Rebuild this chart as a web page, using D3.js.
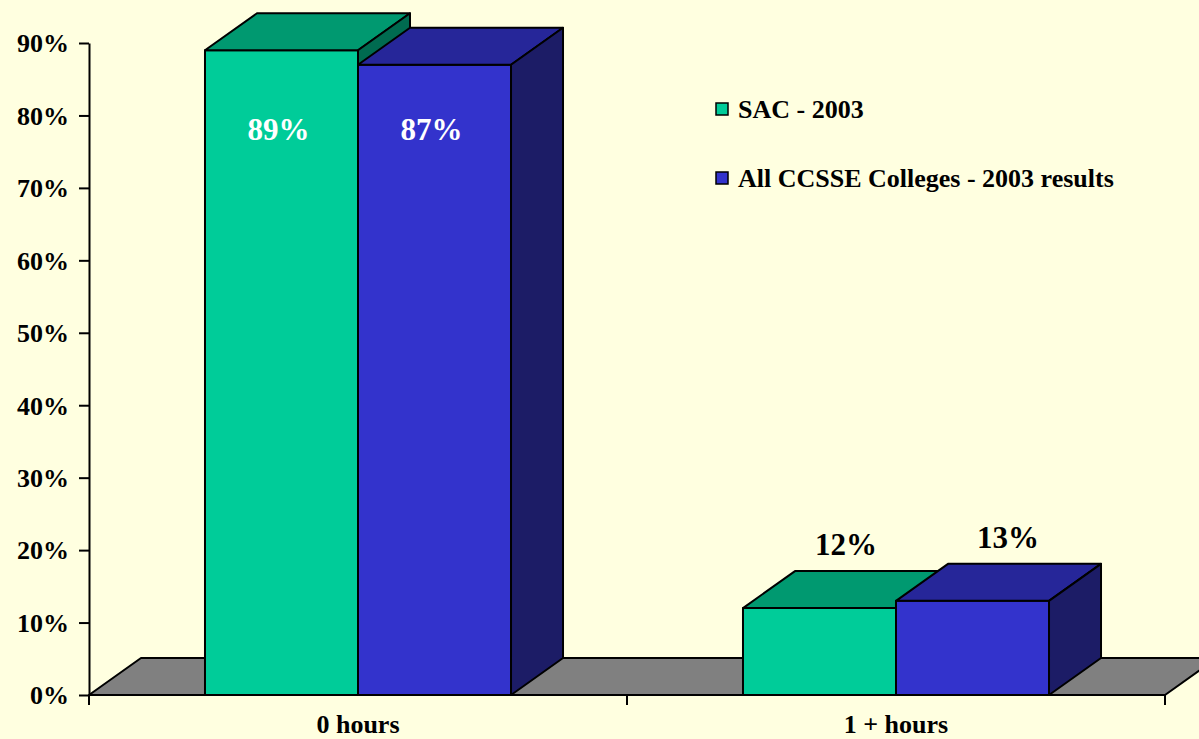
<!DOCTYPE html>
<html>
<head>
<meta charset="utf-8">
<script src="https://cdn.jsdelivr.net/npm/d3@7"></script>
<style>
  html, body { margin: 0; padding: 0; background: #ffffe0; }
  svg { display: block; font-family: "Liberation Serif", "Times New Roman", serif; font-weight: bold; }
</style>
</head>
<body>
<div id="chart"></div>
<script>
var categories = ['0 hours', '1 + hours'];
var seriesNames = ['SAC - 2003', 'All CCSSE Colleges - 2003 results'];
var sacValues = [0.89, 0.12];
var ccsseValues = [0.87, 0.13];
var yTicks = [0, 0.1, 0.2, 0.3, 0.4, 0.5, 0.6, 0.7, 0.8, 0.9];

// front, top, side colours per series
var colors = [
  {front: '#00cc99', top: '#009970', side: '#006b50'},
  {front: '#3333cc', top: '#262699', side: '#1c1c66'}
];

var svg = d3.select('#chart').append('svg')
  .attr('width', 1199)
  .attr('height', 739);

var margin = {t: 43, r: 34, b: 44, l: 89};
var depth = {dx: 52, dy: 37};

var x0 = d3.scaleBand().domain(categories).range([margin.l, 1199 - margin.r]);
var x1 = d3.scaleBand().domain(seriesNames).range([0, x0.bandwidth()]).paddingOuter(0.758);
var y = d3.scaleLinear().domain([0, 0.9]).range([739 - margin.b, margin.t]);

var pct = d3.format('.0%');

// floor
var fl = x0.range()[0], fr = x0.range()[1], fy = y(0);
svg.append('path')
  .attr('d', 'M' + [fl, fy] + 'L' + [fl + depth.dx, fy - depth.dy] + 'L' + [fr + depth.dx, fy - depth.dy] + 'L' + [fr, fy] + 'Z')
  .attr('fill', '#808080')
  .attr('stroke', '#000')
  .attr('stroke-width', 2)
  .attr('stroke-linejoin', 'round');

// bars
var rows = categories.map(function(c, i) {
  return {cat: c, vals: [sacValues[i], ccsseValues[i]]};
});

rows.forEach(function(row) {
  var g = svg.append('g');
  var gmax = d3.max(row.vals);
  row.vals.forEach(function(v, si) {
    var xl = x0(row.cat) + x1(seriesNames[si]);
    var xr = xl + x1.bandwidth();
    var yt = y(v), yb = y(0);
    var c = colors[si];
    var bar = g.append('g');
    bar.append('path')
      .attr('d', 'M' + [xl, yb] + 'L' + [xl, yt] + 'L' + [xr, yt] + 'L' + [xr, yb] + 'Z')
      .attr('fill', c.front);
    bar.append('path')
      .attr('d', 'M' + [xl, yt] + 'L' + [xl + depth.dx, yt - depth.dy] + 'L' + [xr + depth.dx, yt - depth.dy] + 'L' + [xr, yt] + 'Z')
      .attr('fill', c.top);
    bar.append('path')
      .attr('d', 'M' + [xr, yt] + 'L' + [xr + depth.dx, yt - depth.dy] + 'L' + [xr + depth.dx, yb - depth.dy] + 'L' + [xr, yb] + 'Z')
      .attr('fill', c.side);
    bar.selectAll('path')
      .attr('stroke', '#000')
      .attr('stroke-width', 2)
      .attr('stroke-linejoin', 'round');
  });
  // data labels
  row.vals.forEach(function(v, si) {
    var xc = x0(row.cat) + x1(seriesNames[si]) + x1.bandwidth() / 2;
    var inside = v > 0.5;
    g.append('text')
      .attr('x', inside ? xc - 3 : xc + depth.dx * 0.55 + si * 9 - 2)
      .attr('y', inside ? y(gmax) + 90 : y(v) - depth.dy - 16)
      .attr('text-anchor', 'middle')
      .attr('font-size', 31)
      .attr('fill', inside ? '#fff' : '#000')
      .text(pct(v));
  });
});

// y axis
var yAxis = svg.append('g')
  .attr('transform', 'translate(' + margin.l + ',0)')
  .call(d3.axisLeft(y).tickValues(yTicks).tickFormat(pct).tickSize(10).tickSizeOuter(0).tickPadding(10));
yAxis.selectAll('path, line').attr('stroke', '#000').attr('stroke-width', 2);
yAxis.selectAll('text')
  .attr('font-size', 26)
  .attr('font-family', '"Liberation Serif", "Times New Roman", serif')
  .attr('font-weight', 'bold')
  .attr('fill', '#000')
  .attr('dy', '0.34em');

// x axis
var xg = svg.append('g');
xg.append('line')
  .attr('x1', fl).attr('x2', fr)
  .attr('y1', fy).attr('y2', fy)
  .attr('stroke', '#000').attr('stroke-width', 2);
var bounds = [fl].concat(categories.map(function(c) { return x0(c) + x0.bandwidth(); }));
xg.selectAll('.xtick').data(bounds).enter().append('line')
  .attr('class', 'xtick')
  .attr('x1', function(d) { return d; }).attr('x2', function(d) { return d; })
  .attr('y1', fy).attr('y2', fy + 10)
  .attr('stroke', '#000').attr('stroke-width', 2);
xg.selectAll('.xlabel').data(categories).enter().append('text')
  .attr('class', 'xlabel')
  .attr('x', function(d) { return x0(d) + x0.bandwidth() / 2; })
  .attr('y', fy + 38)
  .attr('text-anchor', 'middle')
  .attr('font-size', 26)
  .text(function(d) { return d; });

// legend
var legend = svg.append('g').attr('transform', 'translate(716,103)');
var li = legend.selectAll('g').data(seriesNames).enter().append('g')
  .attr('transform', function(d, i) { return 'translate(0,' + (i * 69) + ')'; });
li.append('rect')
  .attr('width', 12).attr('height', 12)
  .attr('fill', function(d, i) { return colors[i].front; })
  .attr('stroke', '#000').attr('stroke-width', 1.5);
li.append('text')
  .attr('x', 22)
  .attr('y', 15)
  .attr('font-size', 26)
  .text(function(d) { return d; });
</script>
</body>
</html>
